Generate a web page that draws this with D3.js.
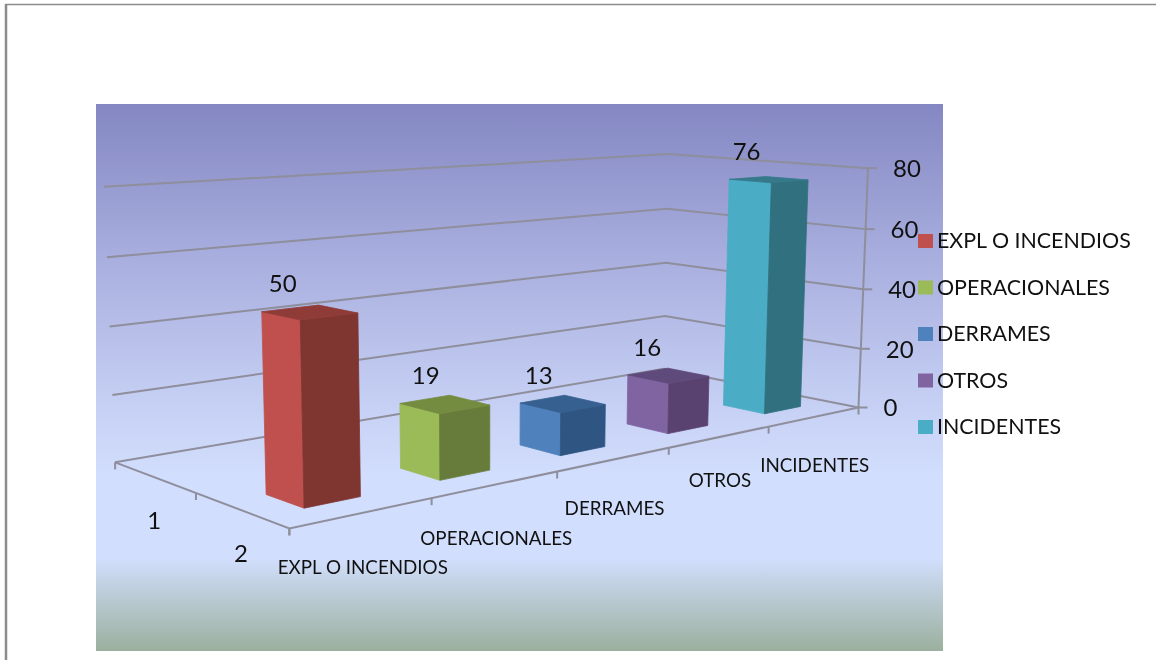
<!DOCTYPE html>
<html>
<head>
<meta charset="utf-8">
<script src="https://cdn.jsdelivr.net/npm/d3@7"></script>
<style>
  body { margin: 0; background: #fff; }
  svg { filter: blur(0.4px); }
  text { font-family: Lato, "Open Sans", sans-serif; fill: #111; }
</style>
</head>
<body>
<div id="chart"></div>
<script>
const categories = ['EXPL O INCENDIOS', 'OPERACIONALES', 'DERRAMES', 'OTROS', 'INCIDENTES'];
const seriesNames = ['2', '1'];
const values = [50, 19, 13, 16, 76];
const valueTicks = [0, 20, 40, 60, 80];
const faceColors = ['#c0504d', '#9bbb59', '#4f81bd', '#8064a2', '#4bacc6'];
const sideColors = ['#7f3530', '#677c3b', '#2f5582', '#5a4270', '#31707f'];
const topColors = ['#8f3b37', '#738c3f', '#35608f', '#5f4a7c', '#35798a'];

// where the box of the 3d chart sits on the page: [u, v, h, x, y]
const calibration = [
  [0, 0, 0, 289, 528], [1, 0, 0, 858, 407], [1, 1, 0, 664, 369], [0, 1, 0, 115, 462],
  [1, 0, 1, 868, 168], [1, 1, 1, 668, 154], [0, 1, 1, 104, 187],
  [0.2, 0, 0, 432, 498], [0.4, 0, 0, 557, 472], [0.6, 0, 0, 669, 448], [0.8, 0, 0, 769, 427],
  [0, 0.5, 0, 196, 493]
];

function solve(A, b) {
  const n = b.length;
  const m = A.map((row, i) => [...row, b[i]]);
  for (let i = 0; i < n; i++) {
    let p = i;
    for (let r = i + 1; r < n; r++) if (Math.abs(m[r][i]) > Math.abs(m[p][i])) p = r;
    [m[i], m[p]] = [m[p], m[i]];
    for (let r = 0; r < n; r++) {
      if (r === i) continue;
      const f = m[r][i] / m[i][i];
      for (let c = i; c <= n; c++) m[r][c] -= f * m[i][c];
    }
  }
  return m.map((row, i) => row[n] / row[i]);
}

// least squares fit of a projective camera to the calibration points
function fitCamera(points) {
  const rows = [], rhs = [];
  points.forEach(([u, v, h, x, y]) => {
    rows.push([u, v, h, 1, 0, 0, 0, 0, -x * u, -x * v, -x * h]); rhs.push(x);
    rows.push([0, 0, 0, 0, u, v, h, 1, -y * u, -y * v, -y * h]); rhs.push(y);
  });
  const N = d3.range(11).map(i => d3.range(11).map(j => d3.sum(rows, r => r[i] * r[j])));
  const t = d3.range(11).map(i => d3.sum(rows, (r, k) => r[i] * rhs[k]));
  return solve(N, t);
}

const cam = fitCamera(calibration);
function project(u, v, h) {
  const w = cam[8] * u + cam[9] * v + cam[10] * h + 1;
  return [
    (cam[0] * u + cam[1] * v + cam[2] * h + cam[3]) / w,
    (cam[4] * u + cam[5] * v + cam[6] * h + cam[7]) / w
  ];
}

const uScale = d3.scaleBand().domain(categories).range([0, 1]).paddingInner(0.6).paddingOuter(0.3);
const vScale = d3.scaleBand().domain(seriesNames).range([0, 1]).paddingInner(0.6).paddingOuter(0.3);
const hScale = d3.scaleLinear().domain([0, 80]).range([0, 1]);
const line = d3.line();

const svg = d3.select('#chart').append('svg').attr('width', 1156).attr('height', 660).style('display', 'block');

const grad = svg.append('defs').append('linearGradient')
  .attr('id', 'bg').attr('x1', 0).attr('y1', 0).attr('x2', 0).attr('y2', 1);
[[0, '#8487c2'], [0.28, '#a8aede'], [0.55, '#c6d0f4'], [0.68, '#d2defd'], [0.83, '#d2defd'], [1, '#9bb09e']]
  .forEach(([o, c]) => grad.append('stop').attr('offset', o).attr('stop-color', c));

// page frame
svg.append('path').attr('d', 'M0,4.5H1156').attr('transform', 'translate(5,0)').attr('stroke', '#8c8c8c').attr('stroke-width', 1.3);
svg.append('path').attr('d', 'M6,4V660').attr('stroke', '#8c8c8c').attr('stroke-width', 2.5);

svg.append('rect').attr('x', 96).attr('y', 104).attr('width', 847).attr('height', 547).attr('fill', 'url(#bg)');

const grid = svg.append('g').attr('fill', 'none').attr('stroke', '#8e8e9c').attr('stroke-width', 2);

// wall gridlines and the value axis
valueTicks.forEach(t => {
  const h = hScale(t);
  grid.append('path').attr('d', line([project(0, 1, h), project(1, 1, h), project(1, 0, h)]));
  const p = project(1, 0, h);
  grid.append('path').attr('d', line([p, [p[0] + 9, p[1]]]));
  svg.append('text').attr('x', p[0] + 25).attr('y', p[1] + 9).attr('font-size', 24).text(t);
});
grid.append('path').attr('d', line([project(1, 0, 0), project(1, 0, 1)]));

// floor edges with their ticks
grid.append('path').attr('d', line([project(0, 1, 0), project(0, 0, 0), project(1, 0, 0)]));
d3.range(0, 6).forEach(i => {
  const p = project(i / 5, 0, 0);
  grid.append('path').attr('d', line([p, [p[0], p[1] + 7]]));
});
[0, 0.5, 1].forEach(v => {
  const p = project(0, v, 0);
  grid.append('path').attr('d', line([p, [p[0], p[1] + 7]]));
});

// category and series labels, under the front edges
const catDy = [55, 55, 50, 44, 49];
categories.forEach((c, i) => {
  const p = project(uScale(c) + uScale.bandwidth() / 2, 0, 0);
  svg.append('text').attr('x', p[0]).attr('y', p[1] + catDy[i] + 6)
    .attr('text-anchor', 'middle').attr('font-size', 18.8).text(c);
});
seriesNames.forEach(s => {
  const p = project(0, vScale(s) + vScale.bandwidth() / 2, 0);
  svg.append('text').attr('x', p[0]).attr('y', p[1] + 52)
    .attr('text-anchor', 'middle').attr('font-size', 24).text(s);
});

// bars: the visible faces of each box
const labelDx = [-27, -19, -24, -21, -22];
const v0 = vScale('2'), v1 = v0 + vScale.bandwidth();
const bars = svg.append('g');
categories.forEach((c, i) => {
  const u0 = uScale(c), u1 = u0 + uScale.bandwidth(), h = hScale(values[i]);
  const face = (pts, color) => bars.append('path')
    .attr('d', line(pts) + 'Z').attr('fill', color).attr('stroke', color).attr('stroke-width', 0.8);
  face([project(u0, v1, 0), project(u0, v0, 0), project(u0, v0, h), project(u0, v1, h)], faceColors[i]);
  face([project(u0, v0, 0), project(u1, v0, 0), project(u1, v0, h), project(u0, v0, h)], sideColors[i]);
  face([project(u0, v0, h), project(u1, v0, h), project(u1, v1, h), project(u0, v1, h)], topColors[i]);
  const top = project((u0 + u1) / 2, (v0 + v1) / 2, h);
  svg.append('text').attr('x', top[0] + labelDx[i]).attr('y', top[1] - 20)
    .attr('text-anchor', 'middle').attr('font-size', 24).text(values[i]);
});

// legend
const legendY = d3.scalePoint().domain(categories).range([241, 427]);
categories.forEach((c, i) => {
  svg.append('rect').attr('x', 918).attr('y', legendY(c) - 7).attr('width', 15).attr('height', 14).attr('fill', faceColors[i]);
  svg.append('text').attr('x', 937).attr('y', legendY(c) + 7).attr('font-size', 21.4).text(c);
});
</script>
</body>
</html>
